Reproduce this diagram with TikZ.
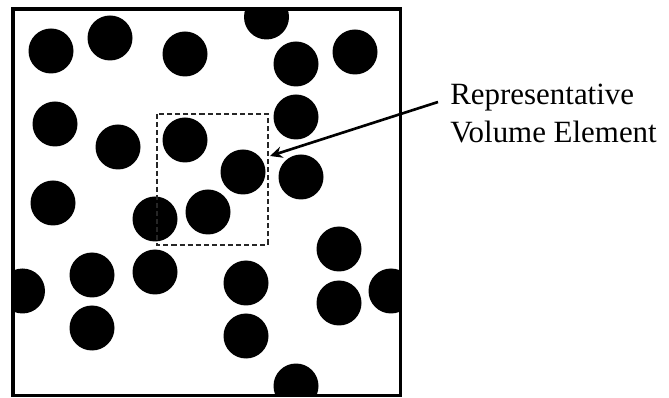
\documentclass[tikz,border=0pt]{standalone}
\usepackage{fontspec}
\setmainfont{Liberation Serif}
\usetikzlibrary{arrows.meta,positioning}

\tikzset{
  fibre/.style={fill=black},
  rvebox/.style={draw=black!85, line width=0.8pt, dash pattern=on 2.9pt off 1.7pt},
  pointer/.style={line width=1.5pt, -{Stealth[length=7pt,width=6.5pt]}},
}

\begin{document}
\begin{tikzpicture}[x=0.02cm,y=-0.02cm]
\useasboundingbox (0,0) rectangle (669,398);
% fibres, cut off at the edge of the cell
\begin{scope}
\clip (13,9) rectangle (400.5,395.5);
\foreach \cx/\cy in {51/51, 110/38, 185/54, 266.5/17, 296/64, 355/52,
                     55/124, 118/147, 185/140, 296/117, 243/172, 301/177,
                     53/203, 155/219, 208/212, 339/249,
                     22.5/291, 92/275, 155/272, 246/283, 339/303, 391/291,
                     92/328, 246/336, 296/386}
  \fill [fibre] (\cx,\cy) circle (22.5);
\end{scope}
\draw [black, line width=2pt] (13,9) rectangle (400.5,395.5);
\draw [rvebox] (157,114) rectangle (268,245);
% label and arrow
\node (rve) [anchor=north west, inner sep=0pt, align=left,
  font=\fontsize{17.6}{21.6}\selectfont] at (450,84) {Representative\\Volume Element};
\coordinate (from) at (438,102);
\coordinate (tip) at (270,156);
\draw [pointer] (from) -- (tip);
\end{tikzpicture}
\end{document}
